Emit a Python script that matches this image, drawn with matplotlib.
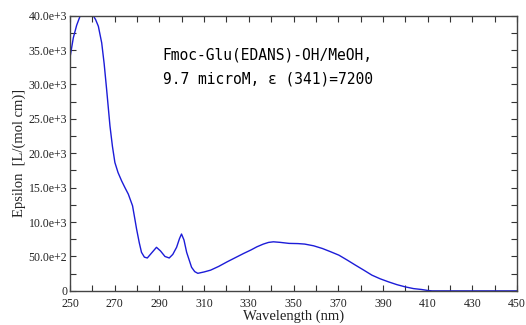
import numpy as np
import matplotlib
matplotlib.use('Agg')
import matplotlib.pyplot as plt

# ---------------- data ----------------
wavelength = [250, 251.5, 253, 254.5, 257.5, 260.4, 261.5, 262.7, 264.2, 265.3,
              266.4, 267.9, 269, 270.1, 271.5, 273.1, 274.6, 276.1, 278.0, 279.0,
              279.8, 281, 282.0, 283.3, 284.6, 286.5, 288.7, 290.5, 292.5, 294.4,
              296, 297.7, 299.0, 299.9, 301, 302.2, 304.4, 305.8, 307.2, 310,
              312.9, 316.5, 320.3, 324, 327.7, 331, 333.6, 336.5, 338.8, 341,
              344, 348, 352, 355, 359, 362.9, 366.5, 370.3, 374, 377.7,
              381.5, 385.1, 388.8, 392.5, 396.3, 400, 403.7, 407.3, 410, 412,
              420, 430, 440, 450]
epsilon = [33870, 36770, 38600, 39900, 41300, 40000, 39400, 38450, 36040, 33000,
           29280, 23960, 21000, 18650, 17200, 15990, 15000, 14060, 12360, 10500,
           8990, 7000, 5600, 4900, 4780, 5500, 6330, 5800, 5000, 4780,
           5300, 6330, 7600, 8260, 7400, 5600, 3430, 2800, 2550, 2750,
           3010, 3550, 4220, 4830, 5440, 5950, 6400, 6800, 7040, 7130,
           7050, 6900, 6870, 6800, 6550, 6160, 5700, 5190, 4480, 3740,
           3000, 2280, 1750, 1310, 900, 580, 330, 200, 60, 0,
           0, 0, 0, 0]

xticks = list(range(250, 451, 10))
xlabels = [str(t) if (t - 250) % 20 == 0 else '' for t in xticks]
yticks = list(range(0, 40001, 2500))
ylabels_major = ['0', '50.0e+2', '10.0e+3', '15.0e+3', '20.0e+3',
                 '25.0e+3', '30.0e+3', '35.0e+3', '40.0e+3']
ylabels = [ylabels_major[i // 2] if i % 2 == 0 else '' for i in range(len(yticks))]

note = 'Fmoc-Glu(EDANS)-OH/MeOH,\n9.7 microM, \u03b5 (341)=7200'

# ---------------- plot ----------------
fig = plt.figure(figsize=(5.26, 3.25), dpi=100)
ax = fig.add_axes([0.133, 0.105, 0.850, 0.847])

ax.plot(wavelength, epsilon, color='#1c1cd8', lw=1.0)

ax.set_xlim(250, 450)
ax.set_ylim(0, 40000)
ax.set_xticks(xticks)
ax.set_xticklabels(xlabels, family='Liberation Serif', fontsize=8.5)
ax.set_yticks(yticks)
ax.set_yticklabels(ylabels, family='Liberation Serif', fontsize=8.5)
ax.tick_params(direction='in', top=True, right=True, length=4, width=0.8,
               color='#333333', labelcolor='#222222', pad=2)
ax.tick_params(axis='x', pad=5)
for s in ax.spines.values():
    s.set_color('#444444')
    s.set_linewidth(1.0)

ax.set_xlabel('Wavelength (nm)', family='Liberation Serif', fontsize=10.5,
              color='#222222', labelpad=0)
ax.set_ylabel('Epsilon  [L/(mol cm)]', family='Liberation Serif', fontsize=10.5,
              color='#222222', labelpad=2)

ax.text(291.5, 32600, note, family='DejaVu Sans Mono', fontsize=10.5,
        va='center', ha='left', linespacing=1.75, color='black')

fig.savefig('out.png', dpi=100)
